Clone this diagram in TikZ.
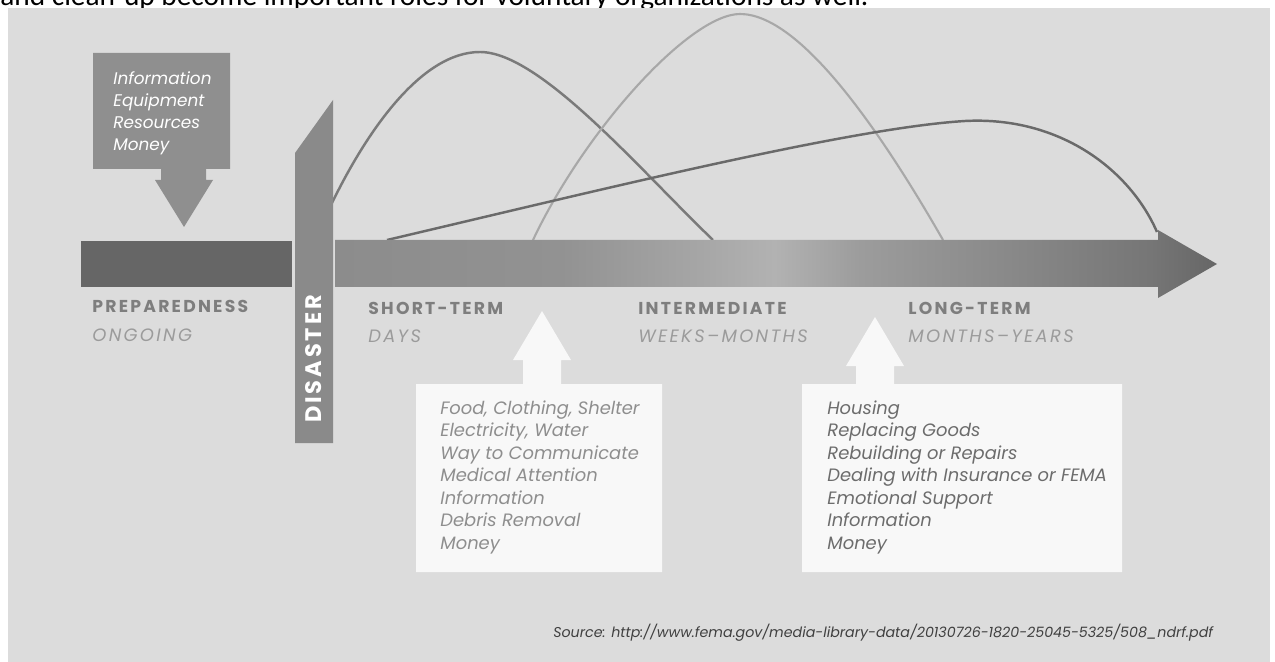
\documentclass[tikz,border=0pt]{standalone}
\usepackage{fontspec}
\setmainfont{Carlito}
\newfontfamily\gothic{Poppins}
\newfontfamily\gothicwide[LetterSpace=13]{Poppins}
\usetikzlibrary{positioning}

\definecolor{panel}{HTML}{DCDCDC}
\definecolor{prepgray}{HTML}{666666}
\definecolor{infogray}{HTML}{8F8F8F}
\definecolor{bargray}{HTML}{8A8A8A}
\definecolor{boxwhite}{HTML}{F8F8F8}
\definecolor{headgray}{HTML}{7E7E7E}
\definecolor{subgray}{HTML}{9B9B9B}
\definecolor{needgray}{HTML}{8E8E8E}
\definecolor{needdark}{HTML}{6C6C6C}
\definecolor{curvedark}{HTML}{7A7A7A}
\definecolor{curvelong}{HTML}{6A6A6A}
\definecolor{curvelight}{HTML}{A8A8A8}
% colour stops along the time line (335px -> 25bp, 1217px -> 75bp)
\definecolor{tlA}{HTML}{8C8C8C}
\definecolor{tlB}{HTML}{929292}
\definecolor{tlC}{HTML}{A6A6A6}
\definecolor{tlD}{HTML}{B2B2B2}
\definecolor{tlE}{HTML}{9C9C9C}
\definecolor{tlF}{HTML}{8A8A8A}
\definecolor{tlG}{HTML}{767676}
\definecolor{tlH}{HTML}{666666}
\pgfdeclarehorizontalshading{timeline}{100bp}{color(0bp)=(tlA); color(25bp)=(tlA);
  color(37.8bp)=(tlB); color(45.7bp)=(tlC); color(49.9bp)=(tlD); color(54.8bp)=(tlE);
  color(62.7bp)=(tlF); color(71.2bp)=(tlG); color(75bp)=(tlH); color(100bp)=(tlH)}

\tikzset{
  phase/.style={anchor=base west,inner sep=0,text=headgray,
    font=\gothicwide\bfseries\fontsize{9.8}{11}\selectfont},
  period/.style={anchor=base west,inner sep=0,text=subgray,
    font=\gothicwide\itshape\fontsize{10.2}{12}\selectfont},
  need/.style={anchor=base west,inner sep=0,
    font=\gothic\itshape\fontsize{10.2}{12}\selectfont},
}

\begin{document}
\begin{tikzpicture}[x=0.02cm,y=-0.02cm]
   \useasboundingbox (0,0) rectangle (1275,662);
   % line of the page above, cut by the panel
   \begin{scope}
      \clip (0,0) rectangle (1275,8);
      \node[anchor=base west,inner sep=0,font=\fontsize{16.7}{20}\selectfont] (intro) at (0,6)
         {and clean-up become important roles for voluntary organizations as well.};
   \end{scope}
   \fill[panel] (8,8) rectangle (1270,662);
   % demand curves
   \draw[curvedark,line width=1.4pt] (332,203) .. controls (365,135) and (420,52) .. (480,52)
      .. controls (540,52) and (640,170) .. (713,240);
   \draw[curvelight,line width=1.2pt] (533,240) .. controls (585,130) and (690,14) .. (740,14)
      .. controls (800,14) and (880,130) .. (943,240);
   \draw[curvelong,line width=1.4pt] (387,240) .. controls (600,190) and (850,128) .. (965,121)
      .. controls (1060,116) and (1130,170) .. (1157,232);
   % time line
   \fill[prepgray] (81,241) rectangle (292,287);
   \shade[shading=timeline] (335,240) -- (1158,240) -- (1158,230)
      -- (1217,264) -- (1158,298) -- (1158,287) -- (335,287) -- cycle;
   % disaster
   \fill[bargray] (295,153) -- (333,100) -- (333,443) -- (295,443) -- cycle;
   \node[rotate=90,inner sep=0,text=white,font=\gothicwide\bfseries\fontsize{12.8}{14}\selectfont] (disaster) at (314,359) {DISASTER};
   % before the disaster
   \fill[infogray] (93,53) -- (230,53) -- (230,169) -- (206,169) -- (206,180) -- (213,180) -- (184,227)
      -- (155,180) -- (161,180) -- (161,169) -- (93,169) -- cycle;
   \node[anchor=north west,inner sep=0,align=left,text=white,font=\gothic\itshape\fontsize{9.6}{12.6}\selectfont] (stock) at (113,71)
      {Information\\Equipment\\Resources\\Money};
   % phases
   \node[phase] (prep) at (92,313) {PREPAREDNESS};
   \node[period] (ongoing) at (92,341) {ONGOING};
   \node[phase] (short) at (368,315) {SHORT-TERM};
   \node[period] (days) at (368,342) {DAYS};
   \node[phase] (inter) at (638,315) {INTERMEDIATE};
   \node[period] (weeks) at (638,342) {WEEKS–MONTHS};
   \node[phase] (long) at (908,315) {LONG-TERM};
   \node[period] (months) at (908,342) {MONTHS–YEARS};
   % needs after the disaster
   \fill[boxwhite] (416,384) -- (523,384) -- (523,360) -- (513,360) -- (542,311) -- (571,360) -- (561,360)
      -- (561,384) -- (662,384) -- (662,572) -- (416,572) -- cycle;
   \fill[boxwhite] (802,384) -- (856,384) -- (856,366) -- (846,366) -- (875,317) -- (904,366) -- (894,366)
      -- (894,384) -- (1122,384) -- (1122,572) -- (802,572) -- cycle;
   \foreach \txt [count=\i from 0] in {{Food, Clothing, Shelter},{Electricity, Water},{Way to Communicate},
         {Medical Attention},{Information},{Debris Removal},{Money}}
      \node[need,text=needgray] (shortneed\i) at (440,414+22.5*\i) {\txt};
   \foreach \txt [count=\i from 0] in {{Housing},{Replacing Goods},{Rebuilding or Repairs},
         {Dealing with Insurance or FEMA},{Emotional Support},{Information},{Money}}
      \node[need,text=needdark] (longneed\i) at (827,414+22.5*\i) {\txt};
   % source
   \node[anchor=base west,inner sep=0,text=black!75,font=\gothic\itshape\fontsize{8.1}{9}\selectfont] (source) at (553,637)
      {Source: http://www.fema.gov/media-library-data/20130726-1820-25045-5325/508\_ndrf.pdf};
\end{tikzpicture}
\end{document}
